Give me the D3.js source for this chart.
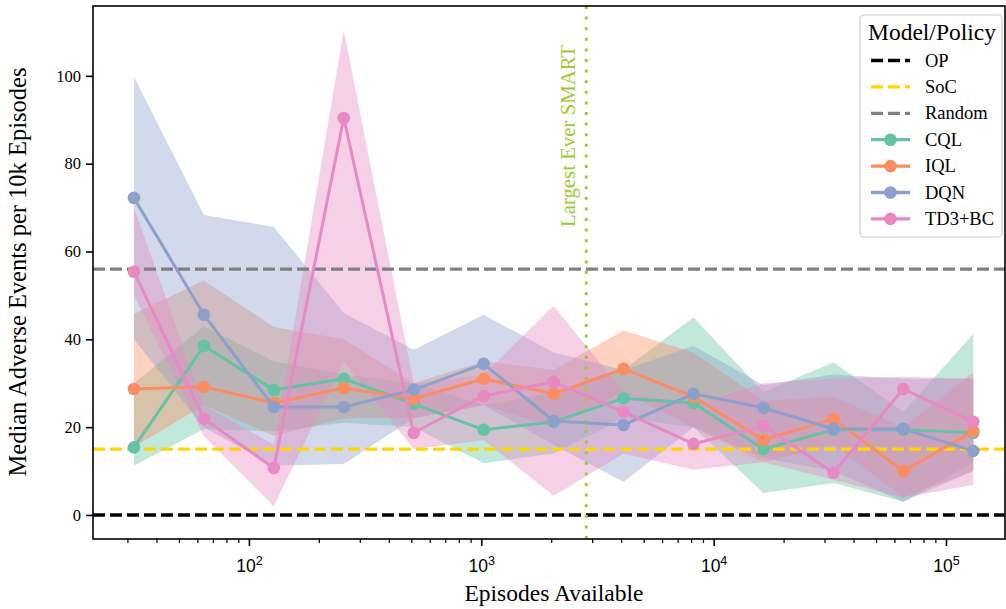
<!DOCTYPE html>
<html>
<head>
<meta charset="utf-8">
<script src="https://cdn.jsdelivr.net/npm/d3@7"></script>
<style>
  body { margin: 0; background: #fff; }
  svg { font-family: "Liberation Serif", "DejaVu Serif", serif; }
</style>
</head>
<body>
<div id="chart"></div>
<script>
////////////////////////////////////////////////////////////////////
////////////////////////////  Data  ////////////////////////////////
const episodes = [32, 64, 128, 256, 512, 1024, 2048, 4096, 8192, 16384, 32768, 65536, 131072];

const cqlMedian = [15.4, 38.5, 28.5, 31.0, 25.3, 19.4, 21.2, 26.6, 25.5, 15.0, 19.4, 19.4, 18.7];
const cqlLower = [11.2, 19.6, 19, 21, 20, 11.8, 14, 22, 20, 5, 7.3, 3, 12];
const cqlUpper = [30, 43, 35, 32, 30, 25, 28, 33, 45, 28, 34.8, 23.5, 41.2];

const iqlMedian = [28.7, 29.2, 25.5, 28.9, 26.4, 31.0, 27.6, 33.3, 26.9, 17.1, 21.9, 10.0, 19.1];
const iqlLower = [15.5, 25, 18, 22, 22, 25, 20, 28, 20, 12, 16, 4, 10];
const iqlUpper = [45.8, 53.4, 42.8, 40, 30, 35, 33, 42, 37, 26, 27, 20, 32.5];

const dqnMedian = [72.2, 45.6, 24.6, 24.6, 28.5, 34.4, 21.4, 20.5, 27.6, 24.4, 19.6, 19.6, 14.6];
const dqnLower = [40, 20, 11.2, 11.6, 22, 25, 16, 7.5, 20, 13, 10, 3, 10];
const dqnUpper = [99.8, 68.3, 65.6, 46, 37.6, 45.6, 37, 33, 38.5, 29.6, 32, 31, 31];

const td3Median = [55.4, 21.9, 10.7, 90.4, 18.7, 27.1, 30.3, 23.5, 16.2, 20.3, 9.6, 28.7, 21.2];
const td3Lower = [50, 18, 2.0, 35, 15, 17, 4.4, 14, 10.3, 12, 8, 4, 6.8];
const td3Upper = [70, 25, 16, 110.3, 30, 32, 47.6, 28, 25, 30, 31, 31.5, 31];

const refNames = ["OP", "SoC", "Random"];
const refValues = [0, 15, 56];
const refColors = ["#000000", "#ffd700", "#808080"];

const modelNames = ["CQL", "IQL", "DQN", "TD3+BC"];
const modelColors = ["#66c2a5", "#fc8d62", "#8da0cb", "#e78ac3"];

const smartEpisodes = 2830;
const yTicks = [0, 20, 40, 60, 80, 100];
const xMajorTicks = [100, 1000, 10000, 100000];

const models = modelNames.map((name, i) => ({
  name,
  color: modelColors[i],
  median: [cqlMedian, iqlMedian, dqnMedian, td3Median][i],
  lower: [cqlLower, iqlLower, dqnLower, td3Lower][i],
  upper: [cqlUpper, iqlUpper, dqnUpper, td3Upper][i],
}));

////////////////////////////////////////////////////////////////////
////////////////////////////  Init  ////////////////////////////////
const width = 1006;
const height = 609;
const margin = { top: 6, right: 1, bottom: 70, left: 93 };

const svg = d3.select("#chart").append("svg")
  .attr("width", width)
  .attr("height", height);

// log x, ~232.5 px per decade
const xScale = d3.scaleLog()
  .domain([Math.pow(10, 1.329), Math.pow(10, 5.254)])
  .range([margin.left, width - margin.right]);

const yScale = d3.scaleLinear()
  .domain([-5.47, 115.9])
  .range([height - margin.bottom, margin.top]);

const plot = svg.append("g");

const area = d3.area()
  .x((d) => xScale(d.x))
  .y0((d) => yScale(d.lo))
  .y1((d) => yScale(d.hi));

const line = d3.line()
  .x((d) => xScale(d.x))
  .y((d) => yScale(d.y));

// Bands
models.forEach((m) => {
  const pts = episodes.map((x, i) => ({ x, lo: m.lower[i], hi: m.upper[i] }));
  plot.append("path")
    .datum(pts)
    .attr("d", area)
    .attr("fill", m.color)
    .attr("fill-opacity", 0.4);
});

// Reference lines
refValues.forEach((v, i) => {
  plot.append("line")
    .attr("x1", margin.left)
    .attr("x2", width - margin.right)
    .attr("y1", yScale(v))
    .attr("y2", yScale(v))
    .attr("stroke", refColors[i])
    .attr("stroke-width", 3.3)
    .attr("stroke-dasharray", "12,5");
});

// Largest ever SMART
plot.append("line")
  .attr("x1", xScale(smartEpisodes))
  .attr("x2", xScale(smartEpisodes))
  .attr("y1", margin.top)
  .attr("y2", height - margin.bottom)
  .attr("stroke", "#9acd32")
  .attr("stroke-width", 3)
  .attr("stroke-dasharray", "3,7.6");

plot.append("text")
  .attr("transform", `translate(${xScale(smartEpisodes) - 11},${136}) rotate(-90)`)
  .attr("text-anchor", "middle")
  .attr("font-size", 20.8)
  .attr("fill", "#9acd32")
  .text("Largest Ever SMART");

// Series lines + markers
models.forEach((m) => {
  const pts = episodes.map((x, i) => ({ x, y: m.median[i] }));
  plot.append("path")
    .datum(pts)
    .attr("d", line)
    .attr("fill", "none")
    .attr("stroke", m.color)
    .attr("stroke-width", 3);
  plot.selectAll(null)
    .data(pts)
    .enter()
    .append("circle")
    .attr("cx", (d) => xScale(d.x))
    .attr("cy", (d) => yScale(d.y))
    .attr("r", 6.3)
    .attr("fill", m.color);
});

////////////////////////////////////////////////////////////////////
////////////////////////////  Axes  ////////////////////////////////
const minorTicks = [];
[10, 100, 1000, 10000, 100000].forEach((base) => {
  for (let k = 2; k <= 9; k++) {
    const v = base * k;
    if (v > xScale.domain()[0] && v < xScale.domain()[1]) minorTicks.push(v);
  }
});

const xMinor = svg.append("g")
  .attr("transform", `translate(0,${height - margin.bottom})`)
  .call(d3.axisBottom(xScale).tickValues(minorTicks).tickSize(4).tickFormat(""));
xMinor.select(".domain").remove();
xMinor.selectAll("line").attr("stroke-width", 1.2);

const xAxis = svg.append("g")
  .attr("transform", `translate(0,${height - margin.bottom})`)
  .call(d3.axisBottom(xScale).tickValues(xMajorTicks).tickSize(7).tickPadding(9).tickFormat(""));
xAxis.select(".domain").remove();
xAxis.selectAll("line").attr("stroke-width", 1.6);
xAxis.selectAll(".tick")
  .append("text")
  .attr("y", 33)
  .attr("fill", "#000")
  .attr("font-size", 17.5)
  .attr("text-anchor", "middle")
  .each(function (d) {
    const t = d3.select(this);
    t.append("tspan").text("10");
    t.append("tspan")
      .attr("dy", -7)
      .attr("font-size", 12.5)
      .text(Math.round(Math.log10(d)));
  });

const yAxis = svg.append("g")
  .attr("transform", `translate(${margin.left},0)`)
  .call(d3.axisLeft(yScale).tickValues(yTicks).tickSize(7).tickPadding(5));
yAxis.select(".domain").remove();
yAxis.selectAll("line").attr("stroke-width", 1.6);
yAxis.selectAll("text")
  .attr("font-family", "Liberation Serif, serif")
  .attr("font-size", 16.5)
  .attr("fill", "#000");

// Frame
svg.append("rect")
  .attr("x", margin.left)
  .attr("y", margin.top)
  .attr("width", width - margin.right - margin.left)
  .attr("height", height - margin.bottom - margin.top)
  .attr("fill", "none")
  .attr("stroke", "#000")
  .attr("stroke-width", 1.6);

// Axis labels
svg.append("text")
  .attr("x", 554)
  .attr("y", 601)
  .attr("text-anchor", "middle")
  .attr("font-size", 23.5)
  .text("Episodes Available");

svg.append("text")
  .attr("transform", `translate(26,272) rotate(-90)`)
  .attr("text-anchor", "middle")
  .attr("font-size", 24.5)
  .text("Median Adverse Events per 10k Episodes");

////////////////////////////////////////////////////////////////////
////////////////////////////  Legend  //////////////////////////////
const legend = svg.append("g").attr("transform", "translate(860,15)");

legend.append("rect")
  .attr("width", 142)
  .attr("height", 222)
  .attr("rx", 4)
  .attr("fill", "#fff")
  .attr("fill-opacity", 0.85)
  .attr("stroke", "#cccccc")
  .attr("stroke-width", 1.2);

legend.append("text")
  .attr("x", 72)
  .attr("y", 25)
  .attr("text-anchor", "middle")
  .attr("font-size", 23.5)
  .text("Model/Policy");

const legendItems = refNames.map((name, i) => ({ name, color: refColors[i], dashed: true }))
  .concat(models.map((m) => ({ name: m.name, color: m.color, dashed: false })));

legendItems.forEach((item, i) => {
  const y = 45.5 + i * 26.4;
  const g = legend.append("g").attr("transform", `translate(0,${y})`);
  g.append("line")
    .attr("x1", 11)
    .attr("x2", 50)
    .attr("stroke", item.color)
    .attr("stroke-width", 3.3)
    .attr("stroke-dasharray", item.dashed ? "12,5" : null);
  if (!item.dashed) {
    g.append("circle").attr("cx", 30.5).attr("r", 6.3).attr("fill", item.color);
  }
  g.append("text")
    .attr("x", 65)
    .attr("y", 6)
    .attr("font-size", 18.5)
    .text(item.name);
});
</script>
</body>
</html>
